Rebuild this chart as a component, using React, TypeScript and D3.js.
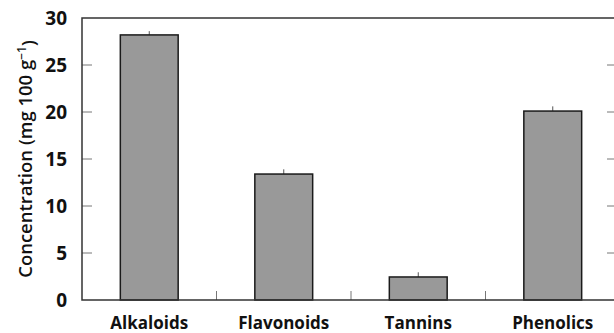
import React from 'react';
import * as d3 from 'd3';

const categories = ['Alkaloids', 'Flavonoids', 'Tannins', 'Phenolics'];
const means = [28.2, 13.4, 2.45, 20.1];
const errors = [0.4, 0.5, 0.5, 0.5];
const yTicks = [0, 5, 10, 15, 20, 25, 30];

const width = 614;
const height = 333;
const margin = { top: 18, right: -6, bottom: 33, left: 82 };
const FONT = "'Open Sans', 'DejaVu Sans', sans-serif";

const App = () => {
    const x = d3.scaleBand()
        .domain(categories)
        .range([margin.left, width - margin.right])
        .paddingInner(0.57)
        .paddingOuter(0.285);

    const y = d3.scaleLinear()
        .domain([0, 30])
        .range([height - margin.bottom, margin.top]);

    const x0 = margin.left;
    const x1 = width - margin.right;
    const y0 = y(0);
    const step = x.step();

    return (
        <svg width={width} height={height} style={{ position: 'absolute', left: 0, top: 0 }}>
            <rect x={0} y={0} width={width} height={height} fill="#fff" />

            {/* inner tick marks, left and right */}
            {yTicks.slice(1, -1).map(t => (
                <g key={t}>
                    <line x1={x0} x2={x0 + 10} y1={y(t)} y2={y(t)} stroke="#777" strokeWidth={1} />
                    <line x1={x1 - 13} x2={x1} y1={y(t)} y2={y(t)} stroke="#777" strokeWidth={1} />
                </g>
            ))}

            {/* category separators */}
            {categories.slice(1).map((c, i) => {
                const cx = margin.left + step * (i + 1);
                return <line key={c} x1={cx} x2={cx} y1={y0} y2={y0 - 9} stroke="#777" strokeWidth={1} />;
            })}

            {/* bars */}
            {categories.map((c, i) => {
                const cx = x(c)! + x.bandwidth() / 2;
                return (
                    <g key={c}>
                        <line x1={cx} x2={cx} y1={y(means[i])} y2={y(means[i] + errors[i])} stroke="#555" strokeWidth={1} />
                        <rect
                            x={x(c)}
                            y={y(means[i])}
                            width={x.bandwidth()}
                            height={y0 - y(means[i])}
                            fill="#999999"
                            stroke="#1a1a1a"
                            strokeWidth={1.5}
                        />
                    </g>
                );
            })}

            {/* frame */}
            <path
                d={`M${x1},${y(30)}H${x0}V${y0}H${x1}`}
                fill="none"
                stroke="#333"
                strokeWidth={1.5}
            />

            {/* y tick labels */}
            {yTicks.map(t => (
                <text
                    key={t}
                    x={67}
                    y={y(t)}
                    dy="0.36em"
                    textAnchor="end"
                    fontFamily={FONT}
                    fontWeight={700}
                    fontSize={19}
                    fill="#111"
                >{t}</text>
            ))}

            {/* category labels */}
            {categories.map(c => (
                <text
                    key={c}
                    x={x(c)! + x.bandwidth() / 2}
                    y={329}
                    textAnchor="middle"
                    fontFamily={FONT}
                    fontWeight={700}
                    fontSize={17}
                    fill="#111"
                >{c}</text>
            ))}

            {/* y axis title */}
            <text
                transform={`translate(32, ${(y(0) + y(30)) / 2}) rotate(-90)`}
                textAnchor="middle"
                fontFamily={FONT}
                fontWeight={600}
                fontSize={18.5}
                fill="#111"
            >
                Concentration (mg 100 g<tspan dy="-0.5em" fontSize={12}>−1</tspan><tspan dy="0.5em">)</tspan>
            </text>
        </svg>
    );
};

export default App;
